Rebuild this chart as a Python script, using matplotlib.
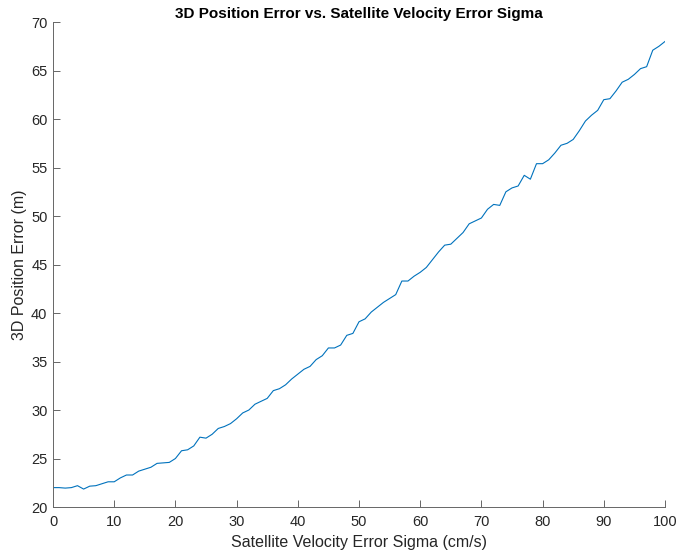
import numpy as np
import matplotlib
matplotlib.use('Agg')
import matplotlib.pyplot as plt

plt.rcParams['font.family'] = ['Liberation Sans', 'DejaVu Sans']

# velocity error sigma (cm/s)
sigma = np.arange(0, 101)
# 3D position error (m)
pos_err = [22.0, 22.0, 21.95, 22.0, 22.2, 21.85, 22.15, 22.2, 22.4, 22.6,
           22.6, 23.0, 23.3, 23.3, 23.7, 23.9, 24.1, 24.5, 24.55, 24.6,
           25.0, 25.8, 25.9, 26.3, 27.2, 27.1, 27.5, 28.1, 28.3, 28.6,
           29.1, 29.7, 30.0, 30.6, 30.9, 31.2, 32.0, 32.2, 32.6, 33.2,
           33.7, 34.2, 34.5, 35.2, 35.6, 36.4, 36.4, 36.7, 37.7, 37.9,
           39.1, 39.4, 40.1, 40.6, 41.1, 41.5, 41.9, 43.3, 43.3, 43.8,
           44.2, 44.7, 45.5, 46.3, 47.0, 47.1, 47.7, 48.3, 49.2, 49.5,
           49.8, 50.7, 51.2, 51.1, 52.5, 52.9, 53.1, 54.2, 53.8, 55.4,
           55.4, 55.8, 56.5, 57.3, 57.5, 57.9, 58.8, 59.8, 60.4, 60.9,
           62.0, 62.1, 62.9, 63.8, 64.1, 64.6, 65.2, 65.4, 67.1, 67.5,
           68.0]

fig = plt.figure(figsize=(6.93, 5.52), dpi=100)
ax = fig.add_axes([0.0765, 0.0815, 0.8831, 0.8785])
ax.plot(sigma, pos_err, color='#0072BD', lw=0.8)

ax.set_xlim(0, 100)
ax.set_ylim(20, 70)
ax.set_xticks(range(0, 101, 10))
ax.set_yticks(range(20, 71, 5))
ax.spines['top'].set_visible(False)
ax.spines['right'].set_visible(False)
for s in ['left', 'bottom']:
  ax.spines[s].set_color('#666666')
  ax.spines[s].set_linewidth(0.7)
ax.tick_params(direction='in', length=5, width=0.7, color='#666666',
               labelcolor='#262626', labelsize=10.5)
ax.tick_params(axis='x', pad=6)
ax.tick_params(axis='y', pad=4)

ax.set_xlabel('Satellite Velocity Error Sigma (cm/s)', fontsize=11.5, color='#262626', labelpad=4)
ax.set_ylabel('3D Position Error (m)', fontsize=11.5, color='#262626', labelpad=3)
ax.set_title('3D Position Error vs. Satellite Velocity Error Sigma', fontsize=11,
             fontweight='bold', color='black', pad=3)

fig.savefig('out.png', dpi=100)
